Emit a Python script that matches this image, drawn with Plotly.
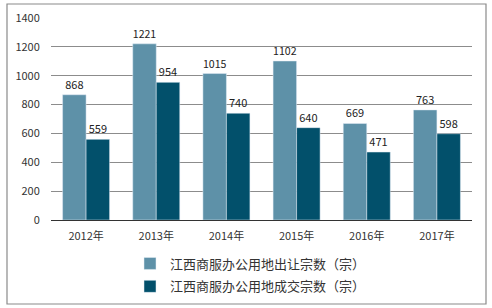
import plotly.graph_objects as go

years = ["2012年", "2013年", "2014年", "2015年", "2016年", "2017年"]
supply = [868, 1221, 1015, 1102, 669, 763]
deal = [559, 954, 740, 640, 471, 598]
name_supply = "江西商服办公用地出让宗数（宗）"
name_deal = "江西商服办公用地成交宗数（宗）"

FONT = "Noto Sans CJK SC"
W, H = 492, 308
L, R, T, B = 51, 20, 18, 88
pw, ph = W - L - R, H - T - B

def px(x):
    return (x - L) / pw

def py(y):
    return (H - B - y) / ph

fig = go.Figure()
fig.add_trace(go.Bar(x=years, y=supply, name=name_supply, marker_color="#5e91a8",
                     text=supply, textposition="outside", cliponaxis=False,
                     textfont=dict(size=11, color="#222222"), legendgroup="a"))
fig.add_trace(go.Bar(x=years, y=deal, name=name_deal, marker_color="#02506b",
                     text=deal, textposition="outside", cliponaxis=False,
                     textfont=dict(size=11, color="#222222"), legendgroup="b"))

fig.update_layout(
    width=W, height=H,
    margin=dict(l=L, r=R, t=T, b=B, autoexpand=False),
    paper_bgcolor="white", plot_bgcolor="white",
    font=dict(family=FONT, size=11, color="#333333"),
    barmode="group", bargap=0.33, bargroupgap=0,
    showlegend=True,
    legend=dict(orientation="v", xref="container", yref="container",
                x=130 / W, y=1 - 248.5 / H, xanchor="left", yanchor="top",
                font=dict(size=13, color="#333333"), tracegroupgap=3,
                itemwidth=30, bgcolor="rgba(0,0,0,0)"),
    xaxis=dict(showline=True, linecolor="#333333", linewidth=1.2, ticks="outside",
               ticklen=6, tickcolor="rgba(0,0,0,0)",
               tickfont=dict(size=11, color="#333333")),
    yaxis=dict(range=[0, 1400], dtick=200, showgrid=True, gridcolor="#8c8c8c",
               gridwidth=1, zeroline=False, showline=False, ticks="outside",
               ticklen=8, tickcolor="rgba(0,0,0,0)",
               tickfont=dict(size=11, color="#333333")),
    shapes=[dict(type="rect", xref="paper", yref="paper",
                 x0=px(7), x1=px(486), y0=py(304), y1=py(4),
                 line=dict(color="#8a8a8a", width=1.2), fillcolor="rgba(0,0,0,0)",
                 layer="below")],
)

fig.write_html("out.html")
